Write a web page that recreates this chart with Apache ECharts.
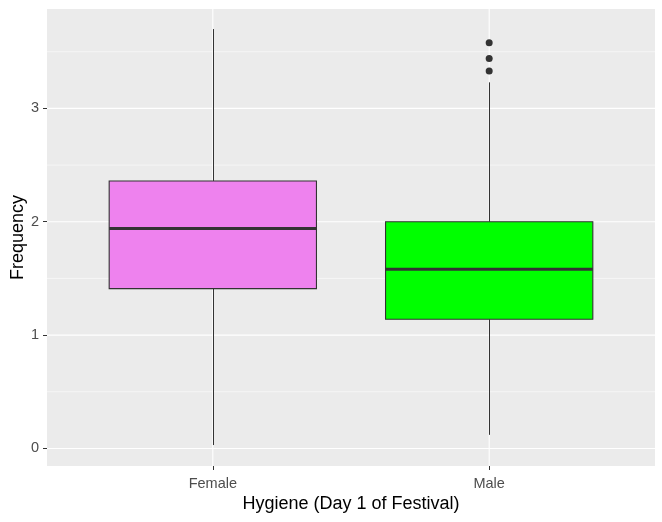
<!DOCTYPE html>
<html>
<head>
<meta charset="utf-8">
<script src="https://cdn.jsdelivr.net/npm/echarts@6/dist/echarts.min.js"></script>
<style>html,body{margin:0;padding:0;background:#fff}#c{width:662px;height:522px}</style>
</head>
<body>
<div id="c"></div>
<script>
const categories = ['Female', 'Male'];
const lowWhisker = [0.03, 0.12];
const q1 = [1.41, 1.14];
const median = [1.94, 1.58];
const q3 = [2.36, 2.00];
const highWhisker = [3.70, 3.23];
const outliers = [[], [3.58, 3.44, 3.33]];
const fills = ['#EE82EE', '#00FF00'];
const yTicks = [0, 1, 2, 3];
const yMinor = [0.5, 1.5, 2.5, 3.5];
const xPositions = [1, 2];

const FONT = '"Liberation Sans", Arial, sans-serif';
const chart = echarts.init(document.getElementById('c'), null, {renderer: 'canvas'});

const boxData = categories.map((c, i) => [xPositions[i], lowWhisker[i], q1[i], median[i], q3[i], highWhisker[i], i]);
const outlierData = [];
outliers.forEach((arr, i) => arr.forEach(v => outlierData.push([xPositions[i], v])));

const gridData = [];
yMinor.forEach(v => gridData.push(['y', v, 0.55]));
yTicks.forEach(v => gridData.push(['y', v, 1.1]));
xPositions.forEach(v => gridData.push(['x', v, 1.1]));

const option = {
  animation: false,
  backgroundColor: '#ffffff',
  grid: {left: 47, right: 7, top: 9, bottom: 56, show: true, backgroundColor: '#EBEBEB', borderWidth: 0,
    containLabel: false, outerBoundsMode: 'none'},
  xAxis: {
    type: 'value', min: 0.4, max: 2.6,
    axisLine: {show: false, onZero: false},
    splitLine: {show: false},
    axisTick: {show: true, customValues: xPositions, length: 4, lineStyle: {color: '#333333', width: 1}},
    axisLabel: {show: true, customValues: xPositions, margin: 10, color: '#4D4D4D', fontSize: 14.5, fontFamily: FONT,
      formatter: v => categories[xPositions.indexOf(v)] || ''},
    name: 'Hygiene (Day 1 of Festival)', nameLocation: 'middle', nameGap: 29, nameMoveOverlap: false,
    nameTextStyle: {color: '#000000', fontSize: 18, fontFamily: FONT}
  },
  yAxis: {
    type: 'value', min: -0.155, max: 3.877,
    axisLine: {show: false, onZero: false},
    splitLine: {show: false},
    axisTick: {show: true, customValues: yTicks, length: 4, lineStyle: {color: '#333333', width: 1}},
    axisLabel: {show: true, customValues: yTicks, margin: 8, color: '#4D4D4D', fontSize: 14.5, fontFamily: FONT},
    name: 'Frequency', nameLocation: 'middle', nameGap: 20, nameRotate: 90, nameMoveOverlap: false,
    nameTextStyle: {color: '#000000', fontSize: 18, fontFamily: FONT}
  },
  series: [
    {
      type: 'custom', silent: true, z: 1,
      data: gridData,
      renderItem: function (params, api) {
        const d = gridData[params.dataIndex];
        const cs = params.coordSys;
        if (d[0] === 'y') {
          const p = api.coord([1, d[1]]);
          return {type: 'line', shape: {x1: cs.x, y1: p[1], x2: cs.x + cs.width, y2: p[1]},
            style: {stroke: '#FFFFFF', lineWidth: d[2]}};
        } else {
          const p = api.coord([d[1], 0]);
          return {type: 'line', shape: {x1: p[0], y1: cs.y, x2: p[0], y2: cs.y + cs.height},
            style: {stroke: '#FFFFFF', lineWidth: d[2]}};
        }
      }
    },
    {
      type: 'custom', z: 3,
      data: boxData,
      renderItem: function (params, api) {
        const x = api.value(0);
        const hw = 0.375;
        const pLow = api.coord([x, api.value(1)]);
        const pQ1 = api.coord([x, api.value(2)]);
        const pMed = api.coord([x, api.value(3)]);
        const pQ3 = api.coord([x, api.value(4)]);
        const pHigh = api.coord([x, api.value(5)]);
        const left = api.coord([x - hw, 0])[0];
        const right = api.coord([x + hw, 0])[0];
        const cx = Math.round(pLow[0]) + 0.5;
        const idx = api.value(6);
        return {
          type: 'group',
          children: [
            {type: 'line', shape: {x1: cx, y1: pLow[1], x2: cx, y2: pQ1[1]}, style: {stroke: '#333333', lineWidth: 1}},
            {type: 'line', shape: {x1: cx, y1: pQ3[1], x2: cx, y2: pHigh[1]}, style: {stroke: '#333333', lineWidth: 1}},
            {type: 'rect', shape: {x: left, y: pQ3[1], width: right - left, height: pQ1[1] - pQ3[1]},
              style: {fill: fills[idx], stroke: '#333333', lineWidth: 1.1}},
            {type: 'line', shape: {x1: left, y1: pMed[1], x2: right, y2: pMed[1]}, style: {stroke: '#333333', lineWidth: 3}}
          ]
        };
      }
    },
    {
      type: 'scatter', z: 4,
      data: outlierData,
      symbol: 'circle', symbolSize: 7,
      itemStyle: {color: '#333333', opacity: 1}
    }
  ]
};
chart.setOption(option);
</script>
</body>
</html>
